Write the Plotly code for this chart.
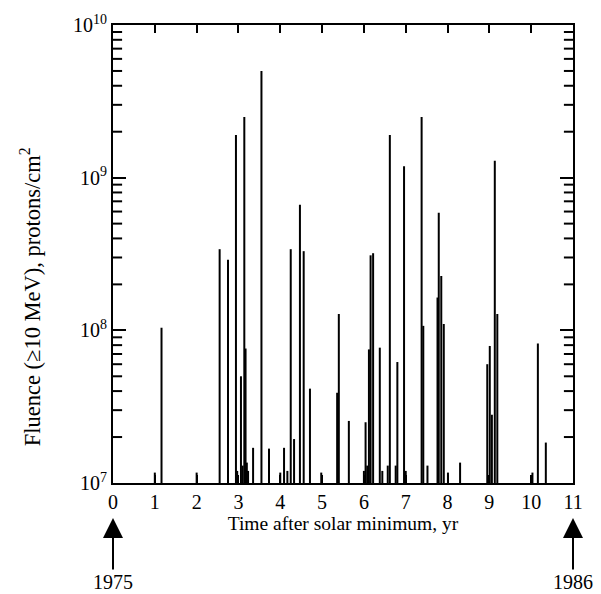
import plotly.graph_objects as go

# Event times (years after solar minimum) and fluences (protons/cm^2)
event_time = [1.0, 1.16, 2.0, 2.55, 2.75, 2.94, 2.97, 3.06, 3.1, 3.14, 3.17, 3.2, 3.23,
              3.35, 3.55, 3.73, 4.0, 4.09, 4.17, 4.25, 4.33, 4.47, 4.56, 4.71, 4.98,
              5.36, 5.40, 5.64, 6.0, 6.04, 6.08, 6.12, 6.16, 6.22, 6.38, 6.44, 6.57, 6.62,
              6.76, 6.8, 6.96, 7.0, 7.38, 7.42, 7.52, 7.76, 7.79, 7.85, 7.91, 8.01, 8.3,
              8.95, 9.01, 9.06, 9.13, 9.19, 10.03, 10.16, 10.35]
fluence = [1.17e7, 1.04e8, 1.17e7, 3.4e8, 2.9e8, 1.9e9, 1.2e7, 5.0e7, 1.3e7, 2.5e9, 7.6e7, 1.36e7, 1.2e7,
           1.7e7, 5.0e9, 1.68e7, 1.17e7, 1.7e7, 1.2e7, 3.4e8, 1.94e7, 6.65e8, 3.3e8, 4.15e7, 1.17e7,
           3.9e7, 1.28e8, 2.55e7, 1.2e7, 2.5e7, 1.3e7, 7.5e7, 3.1e8, 3.2e8, 7.7e7, 1.2e7, 1.3e7, 1.9e9,
           1.3e7, 6.2e7, 1.19e9, 1.2e7, 2.5e9, 1.07e8, 1.3e7, 1.64e8, 5.9e8, 2.27e8, 1.1e8, 1.17e7, 1.36e7,
           6.0e7, 7.9e7, 2.8e7, 1.29e9, 1.28e8, 1.17e7, 8.2e7, 1.84e7]

base_value = 1e7
x_range = [0, 11]
x_ticks = list(range(0, 12))
y_major = [1e7, 1e8, 1e9, 1e10]
y_major_text = ["10<sup>7</sup>", "10<sup>8</sup>", "10<sup>9</sup>", "10<sup>10</sup>"]
y_minor = [m * 10 ** e for e in (7, 8, 9) for m in range(2, 10)]
year_labels = ["1975", "1986"]
year_positions = [0, 11]

xs, ys = [], []
for t, v in zip(event_time, fluence):
    xs += [t, t, None]
    ys += [base_value, v, None]

fig = go.Figure()
fig.add_trace(go.Scatter(x=xs, y=ys, mode="lines",
                         line=dict(color="black", width=2), hoverinfo="skip",
                         showlegend=False))
# minor tick marks on left and right frame edges (clipped half inside)
fig.add_trace(go.Scatter(
    x=[x_range[0]] * len(y_minor) + [x_range[1]] * len(y_minor),
    y=y_minor + y_minor, mode="markers",
    marker=dict(symbol="line-ew", size=13, color="black",
                line=dict(color="black", width=2)),
    cliponaxis=True, hoverinfo="skip", showlegend=False))

tick_font = dict(family="Liberation Serif", size=20, color="black")
xtitle_font = dict(family="Liberation Serif", size=19.5, color="black")
ytitle_font = dict(family="Liberation Serif", size=22.5, color="black")

fig.update_layout(
    width=601, height=594,
    margin=dict(l=113, r=28, t=25, b=111),
    paper_bgcolor="white", plot_bgcolor="white",
    font=tick_font,
    showlegend=False,
    xaxis=dict(range=x_range, tickvals=x_ticks, ticks="inside", ticklen=8,
               tickwidth=2, tickcolor="black", showline=True, linewidth=2,
               linecolor="black", mirror="ticks", showgrid=False, zeroline=False,
               title=dict(text="Time after solar minimum, yr", standoff=2,
                          font=xtitle_font),
               tickfont=tick_font),
    yaxis=dict(type="log", range=[7, 10], tickvals=y_major, ticktext=y_major_text,
               ticks="inside", ticklen=13, tickwidth=2, tickcolor="black",
               showline=True, linewidth=2, linecolor="black", mirror="ticks",
               showgrid=False, zeroline=False, tickfont=tick_font),
)

fig.add_annotation(x=-0.18, y=0.406, xref="paper", yref="paper",
                   text="Fluence (\u226510 MeV), protons/cm<sup>2</sup>",
                   textangle=-90, showarrow=False, font=ytitle_font,
                   xanchor="center", yanchor="middle")

for lab, pos in zip(year_labels, year_positions):
    fig.add_annotation(x=pos, y=-0.0764, xref="x", yref="paper",
                       text=lab, showarrow=True, ax=0, ay=64,
                       arrowhead=2, arrowsize=2, arrowwidth=2,
                       arrowcolor="black", font=tick_font)

fig.write_html("out.html")
